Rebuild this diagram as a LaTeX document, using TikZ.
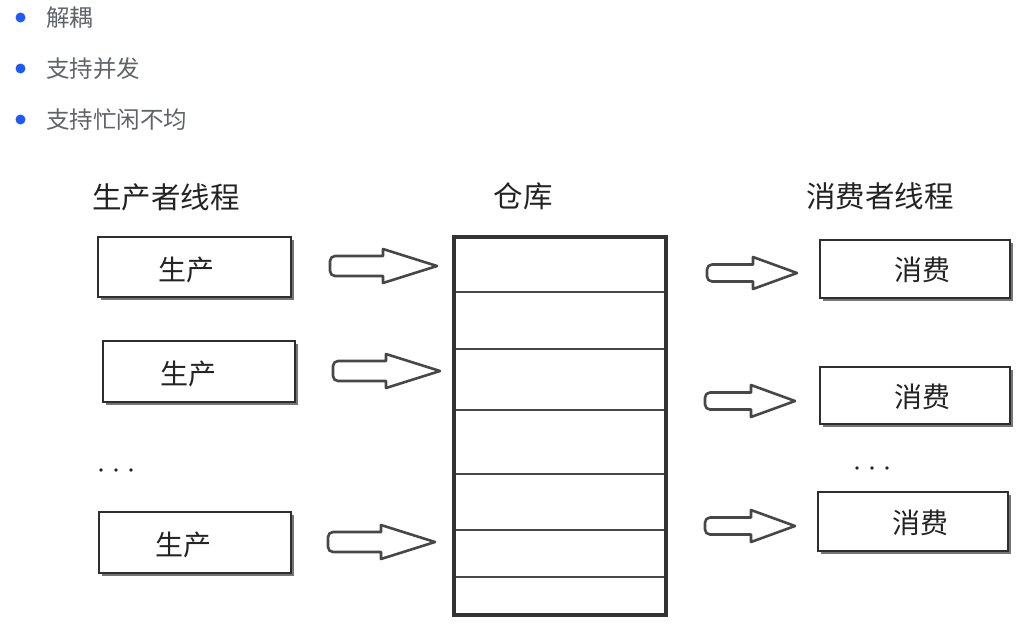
\documentclass[tikz,border=0pt]{standalone}
\usepackage{fontspec}
\newfontfamily\cjk{Noto Sans CJK SC}
\usetikzlibrary{shadows}
\definecolor{bulletblue}{RGB}{30,90,250}
\definecolor{bullettext}{RGB}{95,99,104}
\definecolor{ink}{RGB}{35,35,35}
\tikzset{
  bulletdot/.style={circle,fill=bulletblue,inner sep=0pt,minimum size=10pt},
  bullettxt/.style={anchor=west,inner sep=0pt,text=bullettext,font=\cjk\fontsize{23.5}{26}\selectfont},
  title/.style={inner sep=0pt,text=ink,font=\cjk\fontsize{29.5}{33}\selectfont},
  lbl/.style={inner sep=0pt,text=ink,font=\cjk\fontsize{28}{32}\selectfont},
  thread/.style={draw=black!82,line width=2.7pt,fill=white,
    drop shadow={shadow xshift=2.5pt,shadow yshift=-2.5pt,fill=black!60,opacity=0.9}},
  arrowline/.style={draw=black!72,line width=2.6pt,fill=white,line join=round},
  shelfline/.style={draw=black!72,line width=2.7pt},
  pics/barrow/.style args={#1/#2/#3/#4}{code={
    \draw[arrowline] (#1-#2,#3) -- (#1-#2,#4) -- (#1,0) -- (#1-#2,-#4) -- (#1-#2,-#3)
      [rounded corners=5pt] -- (0,-#3) -- (0,#3) [sharp corners] -- cycle;
  }},
  dotdot/.style={circle,fill=ink,inner sep=0pt,minimum size=3.8pt}
}
\begin{document}
\begin{tikzpicture}[x=1pt,y=-1pt]
\useasboundingbox (0,0) rectangle (1035,638);
% bullets
\node[bulletdot] (d1) at (20.5,17.5) {};
\node[bulletdot] (d2) at (20.5,68.5) {};
\node[bulletdot] (d3) at (20.5,119.5) {};
\node[bullettxt] (t1) at (46,17.5) {解耦};
\node[bullettxt] (t2) at (46,68.5) {支持并发};
\node[bullettxt] (t3) at (46,119.5) {支持忙闲不均};
% titles
\node[title] (tp) at (166,197) {生产者线程};
\node[title] (tw) at (523,196) {仓库};
\node[title] (tc) at (880,196) {消费者线程};
% producer boxes
\draw[thread] (98,237) rectangle (291,297);
\draw[thread] (103,341) rectangle (295,402);
\draw[thread] (99,512) rectangle (291,573);
\node[lbl] (p1) at (186,270) {生产};
\node[lbl] (p2) at (188,374) {生产};
\node[lbl] (p3) at (183,545) {生产};
% dots
\node[dotdot] (l1) at (101,470) {};
\node[dotdot] (l2) at (116,470) {};
\node[dotdot] (l3) at (131,470) {};
\node[dotdot] (r1) at (857,468) {};
\node[dotdot] (r2) at (872,468) {};
\node[dotdot] (r3) at (887,468) {};
% warehouse
\draw[shelfline] (454,292) -- (666,292);
\draw[shelfline] (454,349) -- (666,349);
\draw[shelfline] (454,410) -- (666,410);
\draw[shelfline] (454,474) -- (666,474);
\draw[shelfline] (454,530) -- (666,530);
\draw[shelfline] (454,577) -- (666,577);
\draw[draw=black!80,line width=3.2pt] (454,237) rectangle (666,615);
% consumer boxes
\draw[thread] (820,240) rectangle (1010,298);
\draw[thread] (820,367) rectangle (1010,424);
\draw[thread] (818,492) rectangle (1008,551);
\node[lbl] (c1) at (922,270) {消费};
\node[lbl] (c2) at (922,397) {消费};
\node[lbl] (c3) at (920,523) {消费};
% block arrows
\pic at (330,266) {barrow={107/54/10/17}};
\pic at (333,371) {barrow={107/54/10/17}};
\pic at (328,542) {barrow={107/54/10/17}};
\pic at (707,273) {barrow={90/44/8.5/16}};
\pic at (705,401) {barrow={90/44/8.5/16}};
\pic at (705,526) {barrow={90/44/8.5/16}};
\end{tikzpicture}
\end{document}
